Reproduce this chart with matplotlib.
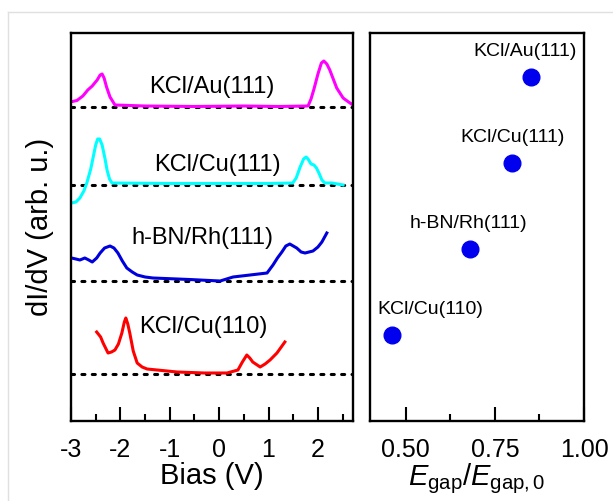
import matplotlib
matplotlib.use("Agg")
import matplotlib.pyplot as plt
from matplotlib.lines import Line2D
from matplotlib.ticker import MultipleLocator

plt.rcParams["font.family"] = ["Liberation Sans", "DejaVu Sans"]
plt.rcParams["mathtext.fontset"] = "custom"
plt.rcParams["mathtext.it"] = "Liberation Sans:italic"
plt.rcParams["mathtext.rm"] = "Liberation Sans"
plt.rcParams["axes.unicode_minus"] = False

# spectra: bias (V) and dI/dV relative to each baseline (arb. u.)
au_bias = [-2.99, -2.88, -2.76, -2.66, -2.57, -2.47, -2.41, -2.37, -2.33, -2.28, -2.21,
           -2.11, -1.5, -0.5, 0.5, 1.2, 1.80, 1.86, 1.92, 2.00, 2.07, 2.12, 2.18, 2.24,
           2.31, 2.38, 2.51, 2.62, 2.71]
au_didv = [0.53, 0.65, 1.1, 1.7, 2.1, 2.7, 3.2, 3.3, 2.9, 2.0, 1.0,
           0.2, 0.1, 0.05, 0.1, 0.05, 0.1, 0.8, 1.8, 3.3, 4.4, 4.6, 4.3, 3.7,
           2.8, 1.9, 0.9, 0.5, 0.2]

cu111_bias = [-2.99, -2.90, -2.82, -2.74, -2.68, -2.60, -2.55, -2.50, -2.46, -2.42, -2.37,
              -2.31, -2.27, -2.22, -2.17, -1.0, 0.0, 1.0, 1.49, 1.56, 1.64, 1.71, 1.76,
              1.80, 1.86, 1.92, 1.97, 2.02, 2.08, 2.14, 2.28, 2.51]
cu111_didv = [-1.8, -1.7, -1.3, -0.6, 0.2, 1.6, 2.8, 4.0, 4.6, 4.6, 4.0,
              2.6, 1.5, 0.6, 0.2, 0.15, 0.15, 0.15, 0.2, 0.7, 1.8, 2.6, 2.8,
              2.6, 2.1, 2.0, 1.7, 1.2, 0.5, 0.2, 0.2, 0.0]

hbn_bias = [-2.99, -2.90, -2.82, -2.72, -2.64, -2.57, -2.48, -2.41, -2.32, -2.21, -2.13,
            -2.05, -1.96, -1.87, -1.76, -1.66, -1.50, -1.34, -0.6, 0.02, 0.28, 0.97,
            1.09, 1.18, 1.27, 1.35, 1.43, 1.50, 1.57, 1.66, 1.74, 1.82, 1.90, 2.00,
            2.08, 2.18]
hbn_didv = [2.3, 2.2, 2.1, 2.3, 2.1, 1.9, 2.3, 2.8, 3.3, 3.5, 3.3,
            2.8, 2.0, 1.3, 0.9, 0.6, 0.4, 0.3, 0.15, 0.0, 0.4, 0.8,
            1.6, 2.3, 2.9, 3.5, 3.7, 3.5, 3.3, 2.9, 2.8, 2.9, 3.0, 3.4,
            3.9, 4.8]

cu110_bias = [-2.48, -2.40, -2.35, -2.25, -2.18, -2.11, -2.04, -1.97, -1.92, -1.89, -1.85,
              -1.81, -1.74, -1.66, -1.56, -1.46, -0.85, -0.3, 0.16, 0.38, 0.47, 0.56,
              0.62, 0.68, 0.83, 0.93, 1.03, 1.17, 1.33]
cu110_didv = [4.2, 3.7, 3.1, 2.1, 2.2, 2.4, 3.0, 4.1, 5.2, 5.6, 5.0,
              4.1, 2.3, 1.1, 0.7, 0.5, 0.2, 0.1, 0.1, 0.4, 1.2, 1.9,
              1.6, 1.2, 0.7, 1.0, 1.4, 2.1, 3.2]

baselines = [31.4, 23.6, 14.0, 4.7]
spectra_names = ["KCl/Au(111)", "KCl/Cu(111)", "h-BN/Rh(111)", "KCl/Cu(110)"]
spectra_colors = ["#ff00ff", "#00ffff", "#0000dd", "#ff0000"]
label_pos = [(-0.15, 33.4), (-0.04, 25.6), (-0.35, 18.3), (-0.33, 9.4)]

# gap ratio panel
gap_names = ["KCl/Au(111)", "KCl/Cu(111)", "h-BN/Rh(111)", "KCl/Cu(110)"]
gap_ratio = [0.851, 0.798, 0.680, 0.461]
gap_rank = [4, 3, 2, 1]
gap_label_x = [0.836, 0.800, 0.677, 0.568]

fig = plt.figure(figsize=(6.13, 5.01), dpi=100)
ax = fig.add_axes([71 / 613, 1 - 421 / 501, 282 / 613, 388 / 501])
ax2 = fig.add_axes([370 / 613, 1 - 421 / 501, 214 / 613, 388 / 501])

curves = [(au_bias, au_didv), (cu111_bias, cu111_didv),
          (hbn_bias, hbn_didv), (cu110_bias, cu110_didv)]
for (bias, didv), base, name, color, (lx, ly) in zip(
        curves, baselines, spectra_names, spectra_colors, label_pos):
    ax.axhline(base, color="black", linestyle=(0, (1, 2.4)), linewidth=2.2,
               dash_capstyle="round", zorder=1)
    ax.plot(bias, [v + base for v in didv], color=color, linewidth=2.2,
            solid_joinstyle="round", zorder=2)
    ax.text(lx, ly, name, fontsize=17, ha="center", va="center")

ax.set_xlim(-3, 2.71)
ax.set_ylim(0, 38.8)
ax.xaxis.set_major_locator(MultipleLocator(1))
ax.xaxis.set_minor_locator(MultipleLocator(0.5))
ax.set_yticks([])
ax.set_xlabel("Bias (V)", fontsize=21, labelpad=0)
ax.set_ylabel("dI/dV (arb. u.)", fontsize=21, labelpad=12)

ax2.plot(gap_ratio, gap_rank, "o", color="#0000ee", markersize=12, linestyle="none")
for x, y, name, lx in zip(gap_ratio, gap_rank, gap_names, gap_label_x):
    ax2.text(lx, y + 0.3, name, fontsize=14, ha="center", va="center")
ax2.set_xlim(0.4, 1.0)
ax2.set_ylim(0, 4.51)
ax2.set_xticks([0.5, 0.75, 1.0])
ax2.set_xticklabels(["0.50", "0.75", "1.00"])
ax2.xaxis.set_minor_locator(MultipleLocator(0.125))
ax2.set_yticks([])
ax2.set_xlabel(r"$E_{\mathrm{gap}}/E_{\mathrm{gap,0}}$", fontsize=21, labelpad=0)

for a in (ax, ax2):
    for s in a.spines.values():
        s.set_linewidth(1.7)
    a.tick_params(axis="x", which="major", direction="in", length=10, width=1.5,
                  labelsize=18, pad=12)
    a.tick_params(axis="x", which="minor", direction="in", length=5, width=1.5)

# light frame around the figure
fig.add_artist(Line2D([8 / 613, 8 / 613], [0, 1 - 12 / 501], color="#e0e0e0", linewidth=1))
fig.add_artist(Line2D([8 / 613, 1], [1 - 12 / 501, 1 - 12 / 501], color="#e0e0e0", linewidth=1))

fig.savefig("out.png", dpi=100)
